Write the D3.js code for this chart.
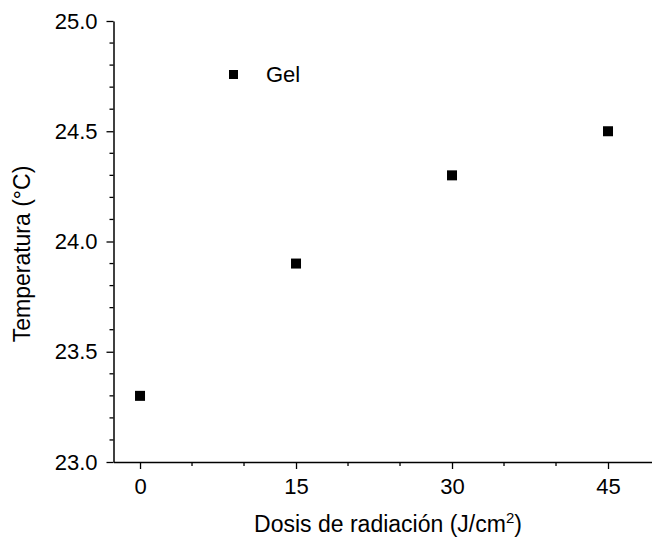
<!DOCTYPE html>
<html>
<head>
<meta charset="utf-8">
<script src="https://cdn.jsdelivr.net/npm/d3@7"></script>
<style>
  body { margin: 0; background: #fff; }
  text { font-family: "Liberation Sans", Arial, sans-serif; fill: #000; }
</style>
</head>
<body>
<div class="chart"></div>
<script>
// data
const doses = [0, 15, 30, 45];
const temps = [23.3, 23.9, 24.3, 24.5];
const xTicks = [0, 15, 30, 45];
const yTicks = [23.0, 23.5, 24.0, 24.5, 25.0];
const seriesName = 'Gel';

const W = 652, H = 539;
const margin = { top: 21, right: 0, bottom: 77, left: 113.5 };
const width = W - margin.left - margin.right;
const height = H - margin.top - margin.bottom;

const svg = d3.select('.chart').append('svg')
  .attr('width', W).attr('height', H);
const g = svg.append('g')
  .attr('transform', `translate(${margin.left}, ${margin.top})`);

// x from about -2.55 up to the window edge
const x = d3.scaleLinear().domain([-2.55, 49.23]).range([0, width]);
const y = d3.scaleLinear().domain([23, 25]).range([height, 0]);

//minor ticks between the labelled ones
const xMinor = d3.range(0, 50, 5).filter((d) => xTicks.indexOf(d) < 0);
const yMinor = d3.range(23.1, 25, 0.1).filter((d) => Math.abs(d * 2 - Math.round(d * 2)) > 0.01);

const xAxis = g.append('g')
  .attr('transform', `translate(0, ${height})`)
  .call(d3.axisBottom(x).tickValues(xTicks).tickSize(7).tickPadding(9).tickSizeOuter(0));
xAxis.selectAll('.minor').data(xMinor).enter().append('line')
  .attr('x1', (d) => x(d)).attr('x2', (d) => x(d))
  .attr('y1', 0).attr('y2', 4).attr('stroke', '#000').attr('stroke-width', 1.3);

const yAxis = g.append('g')
  .call(d3.axisLeft(y).tickValues(yTicks).tickFormat(d3.format('.1f')).tickSize(7).tickPadding(9).tickSizeOuter(0));
yAxis.selectAll('.minor').data(yMinor).enter().append('line')
  .attr('x1', 0).attr('x2', -4)
  .attr('y1', (d) => y(d)).attr('y2', (d) => y(d)).attr('stroke', '#000').attr('stroke-width', 1.3);

[xAxis, yAxis].forEach((a) => {
  a.select('.domain').attr('stroke', '#000').attr('stroke-width', 1.5);
  a.selectAll('.tick line').attr('stroke', '#000').attr('stroke-width', 1.3);
  a.selectAll('.tick text').style('font-size', '22px').attr('fill', '#000');
});

// points
const sz = 10;
g.selectAll('rect.pt').data(doses).enter().append('rect')
  .attr('class', 'pt')
  .attr('x', (d) => x(d) - sz / 2)
  .attr('y', (d, i) => y(temps[i]) - sz / 2)
  .attr('width', sz).attr('height', sz)
  .attr('fill', '#000');

// legend
svg.append('rect')
  .attr('x', 229).attr('y', 70).attr('width', 9).attr('height', 9).attr('fill', '#000');
svg.append('text')
  .attr('x', 266).attr('y', 81.5)
  .style('font-size', '22px')
  .text(seriesName);

// axis titles
const xt = svg.append('text')
  .attr('x', 388).attr('y', 531.5)
  .style('text-anchor', 'middle')
  .style('font-size', '23px')
  .text('Dosis de radiación (J/cm');
xt.append('tspan').attr('dy', -9).style('font-size', '15px').text('2');
xt.append('tspan').attr('dy', 9).text(')');

svg.append('text')
  .attr('transform', 'rotate(-90)')
  .attr('x', -254).attr('y', 30)
  .style('text-anchor', 'middle')
  .style('font-size', '23px')
  .text('Temperatura (°C)');
</script>
</body>
</html>
